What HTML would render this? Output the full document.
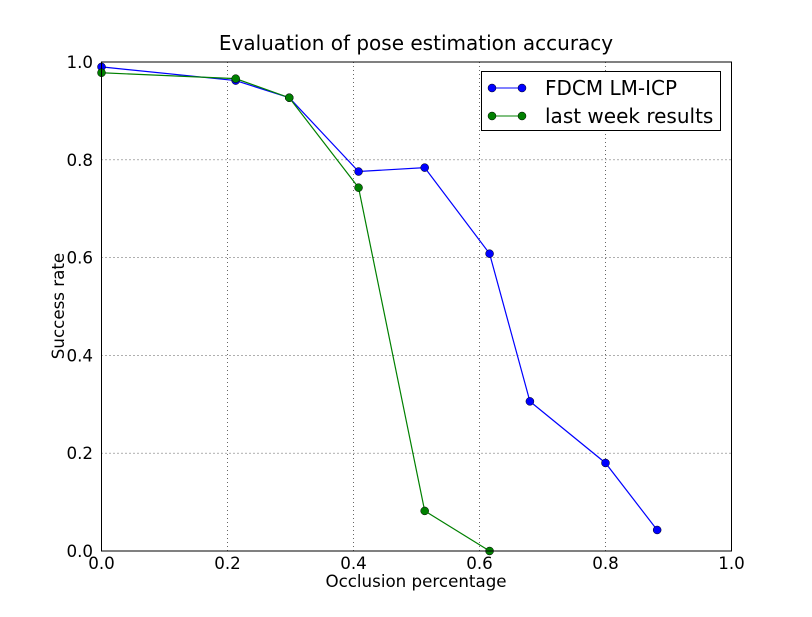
<!DOCTYPE html>
<html><head><meta charset="utf-8"><style>
body{margin:0;background:#fff;}
svg text{font-family:"DejaVu Sans","Liberation Sans",sans-serif;fill:#000;}
</style></head><body>
<svg id="chart" width="812" height="612">
<rect width="812" height="612" fill="#fff"/>
<g id="grid"></g>
<g id="series"></g>
<rect x="101.5" y="62" width="630" height="489" fill="none" stroke="#000" stroke-width="1"/>
<g id="ticks"></g>
<text x="416" y="50" text-anchor="middle" font-size="20">Evaluation of pose estimation accuracy</text>
<text x="416" y="587" text-anchor="middle" font-size="16.7">Occlusion percentage</text>
<text transform="translate(64,306) rotate(-90)" text-anchor="middle" font-size="16.7">Success rate</text>
<g>
<rect x="481.5" y="71.5" width="239" height="59" fill="#fff" stroke="#000"/>
<g>
<line x1="492" y1="88" x2="522" y2="88" stroke="#0000ff"/>
<circle cx="492" cy="88" r="4" fill="#0000ff" stroke="#000" stroke-width="0.5"/>
<circle cx="522" cy="88" r="4" fill="#0000ff" stroke="#000" stroke-width="0.5"/>
<text x="545" y="95" font-size="20">FDCM LM-ICP</text></g>
<g>
<line x1="492" y1="116" x2="522" y2="116" stroke="#008000"/>
<circle cx="492" cy="116" r="4" fill="#008000" stroke="#000" stroke-width="0.5"/>
<circle cx="522" cy="116" r="4" fill="#008000" stroke="#000" stroke-width="0.5"/>
<text x="545" y="123" font-size="20">last week results</text></g>
</g>
</svg>
<script>
const xTicks=[0,0.2,0.4,0.6,0.8,1.0];
const yTicks=[0,0.2,0.4,0.6,0.8,1.0];
const fdcmX=[0,0.213,0.298,0.408,0.513,0.616,0.68,0.8,0.882];
const fdcmY=[0.99,0.962,0.927,0.776,0.784,0.608,0.306,0.18,0.043];
const lastX=[0,0.213,0.298,0.408,0.513,0.616];
const lastY=[0.978,0.966,0.927,0.743,0.082,0.0];
const NS="http://www.w3.org/2000/svg";
const sx=v=>101.5+v*630, sy=v=>551-v*489;
function mk(t,a,p){const e=document.createElementNS(NS,t);for(const k in a)e.setAttribute(k,a[k]);p.appendChild(e);return e;}
const grid=document.getElementById('grid'),ticks=document.getElementById('ticks'),ser=document.getElementById('series');
xTicks.forEach(v=>{
 if(v>0&&v<1){const g=mk('line',{x1:sx(v),x2:sx(v),y1:62,y2:551,stroke:'#000','stroke-dasharray':'1,3','stroke-width':0.6},grid);
 }
 const t=mk('text',{x:sx(v),y:569,'text-anchor':'middle','font-size':16.7},ticks);t.textContent=v.toFixed(1);
 
});
yTicks.forEach(v=>{
 if(v>0&&v<1){const g=mk('line',{x1:101.5,x2:731.5,y1:sy(v),y2:sy(v),stroke:'#000','stroke-dasharray':'1,3','stroke-width':0.6},grid);
 }
 const t=mk('text',{x:93,y:sy(v)+6,'text-anchor':'end','font-size':16.7},ticks);t.textContent=v.toFixed(1);
 
});
function draw(xs,ys,c,name){
 const pl=mk('polyline',{points:xs.map((x,i)=>sx(x)+','+sy(ys[i])).join(' '),fill:'none',stroke:c,'stroke-width':1.2},ser);
 
 xs.forEach((x,i)=>{const p=mk('circle',{cx:sx(x),cy:sy(ys[i]),r:4,fill:c,stroke:'#000','stroke-width':0.5},ser);
 });
}
draw(fdcmX,fdcmY,'#0000ff','fdcm');
draw(lastX,lastY,'#008000','last-week');
</script>
</body></html>
